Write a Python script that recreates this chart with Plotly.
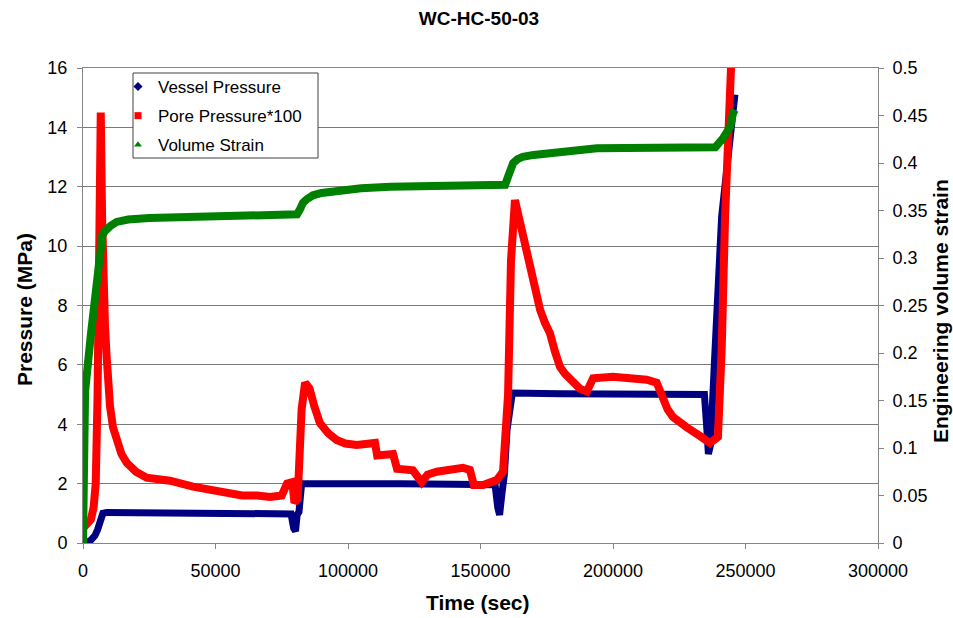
import plotly.graph_objects as go

# Test WC-HC-50-03: time in seconds
vessel_t = [0, 1500, 3000, 4500, 5500, 6500, 7500, 9000, 20000, 40000, 60000, 78500,
            79500, 80200, 80800, 81500, 82500, 100000, 120000, 140000, 155500, 156500,
            157200, 158000, 159000, 160000, 161000, 162000, 180000, 200000, 220000,
            234500, 235300, 236000, 236800, 237400, 238500, 241000, 243500, 246000]
vessel_p = [0.0, 0.02, 0.1, 0.25, 0.45, 0.8, 1.0, 1.03, 1.02, 1.0, 0.99, 0.98,
            0.5, 0.4, 0.95, 1.05, 2.0, 2.02, 2.0, 1.98, 1.96, 1.2,
            0.95, 1.6, 2.3, 3.8, 4.7, 5.05, 5.03, 5.02, 5.0,
            5.0, 4.0, 3.0, 3.3, 5.05, 6.5, 11.0, 13.3, 15.1]

pore_t = [0, 1000, 2000, 3000, 4000, 4800, 5500, 6200, 6700, 7200, 7700, 8300, 8900,
          9500, 10200, 11300, 12700, 14500, 16500, 20000, 24000, 28000, 32800, 41500,
          51700, 60000, 65700, 70600, 75000, 77000, 79000, 79800, 81000, 82500, 83800,
          85500, 87300, 89400, 92500, 95700, 99000, 103300, 110200, 111000, 117000,
          118500, 124500, 127800, 130000, 133500, 143400, 146000, 147500, 151000, 156100,
          158500, 160400, 161500, 163000, 164900, 166800, 168700, 170600, 172500, 174400,
          176200, 178100, 180000, 181900, 183800, 187500, 190100, 192500, 200000, 212700,
          216500, 218900, 220600, 222600, 225000, 227800, 232900, 236600, 239600, 241000,
          242300, 244800]
pore_p100 = [0.7, 0.6, 0.7, 0.8, 1.2, 2.0, 5.0, 11.5, 14.5, 11.0, 8.5, 7.3, 6.3,
             5.4, 4.6, 3.9, 3.4, 3.0, 2.7, 2.4, 2.2, 2.15, 2.1, 1.9,
             1.7, 1.6, 1.6, 1.55, 1.6, 2.0, 2.05, 1.35, 1.5, 4.5, 5.4,
             5.2, 4.6, 4.04, 3.7, 3.47, 3.35, 3.3, 3.37, 2.95, 3.0,
             2.5, 2.45, 2.05, 2.3, 2.4, 2.53, 2.46, 1.95, 1.95, 2.12,
             2.4, 5.0, 9.5, 11.55, 10.8, 10.1, 9.4, 8.6, 7.85, 7.4,
             7.07, 6.45, 5.93, 5.7, 5.5, 5.2, 5.1, 5.55, 5.6, 5.5,
             5.4, 4.8, 4.5, 4.25, 4.05, 3.9, 3.6, 3.37, 3.57, 6.5,
             11.0, 16.6]

strain_t = [0, 300, 800, 3000, 5000, 6400, 7300, 8200, 9000, 10500, 12700, 17000, 25000,
            44000, 70000, 80000, 80800, 82000, 83000, 84500, 86800, 90000, 95700, 105000,
            115900, 140000, 157400, 158500, 159300, 160200, 161000, 162300, 164000, 166000,
            170000, 175000, 184000, 193900, 205000, 221600, 238600, 241500, 244200, 245300,
            246000]
strain = [0.0, 0.1, 0.16, 0.22, 0.275, 0.316, 0.324, 0.328, 0.331, 0.334, 0.338, 0.3405,
          0.342, 0.3435, 0.344, 0.3445, 0.346, 0.352, 0.358, 0.362, 0.366, 0.3685, 0.371,
          0.3735, 0.375, 0.376, 0.377, 0.3755, 0.377, 0.384, 0.392, 0.4, 0.404, 0.4066,
          0.4085, 0.41, 0.413, 0.4155, 0.4158, 0.416, 0.4165, 0.426, 0.438, 0.4526,
          0.456]

x_ticks = [0, 50000, 100000, 150000, 200000, 250000, 300000]
p_ticks = [0, 2, 4, 6, 8, 10, 12, 14, 16]
s_ticks = [0, 0.05, 0.1, 0.15, 0.2, 0.25, 0.3, 0.35, 0.4, 0.45, 0.5]

NAVY = "#000080"
RED = "#FF0000"
GREEN = "#008000"
FONT = "Liberation Sans, Arial, sans-serif"

# plot-area pixel frame used for placing the legend box and axis titles
PX_L, PX_R, PX_T, PX_B = 83, 878, 68, 543
PW, PH = PX_R - PX_L, PX_B - PX_T


def px_x(px):
    return (px - PX_L) / PW


def px_y(py):
    return (PX_B - py) / PH


fig = go.Figure()

# data curves (thick lines standing in for densely packed markers)
fig.add_trace(go.Scatter(x=vessel_t, y=vessel_p, mode="lines", showlegend=False,
                         line=dict(color=NAVY, width=7), hoverinfo="skip"))
fig.add_trace(go.Scatter(x=pore_t, y=pore_p100, mode="lines", showlegend=False,
                         line=dict(color=RED, width=8), hoverinfo="skip"))
fig.add_trace(go.Scatter(x=strain_t, y=strain, mode="lines", showlegend=False,
                         line=dict(color=GREEN, width=8), yaxis="y2", hoverinfo="skip"))

# legend entries with the series marker symbols
for name, sym, col, grp in [("Vessel Pressure", "diamond", NAVY, "a"),
                            ("Pore Pressure*100", "square", RED, "b"),
                            ("Volume Strain", "triangle-up", GREEN, "c")]:
    fig.add_trace(go.Scatter(x=[None], y=[None], mode="markers", name=name, legendgroup=grp,
                             marker=dict(symbol=sym, size=7, color=col)))

axis_common = dict(showline=True, linecolor="#868686", linewidth=1, ticks="outside",
                   ticklen=5, tickcolor="#868686", zeroline=False,
                   tickfont=dict(family=FONT, size=18, color="black"))

fig.update_layout(
    width=953, height=618,
    margin=dict(l=PX_L, r=953 - PX_R, t=PX_T, b=618 - PX_B, autoexpand=False),
    paper_bgcolor="white", plot_bgcolor="white",
    title=dict(text="<b>WC-HC-50-03</b>", x=479 / 953, xanchor="center",
               y=1 - 18 / 618, yanchor="middle",
               font=dict(family=FONT, size=19, color="black")),
    xaxis=dict(range=[0, 300000], tickvals=x_ticks, ticktext=[str(v) for v in x_ticks],
               showgrid=False, mirror=True, ticklabelstandoff=6, **axis_common),
    yaxis=dict(range=[0, 16], tickvals=p_ticks, ticktext=[str(v) for v in p_ticks],
               showgrid=True, gridcolor="#7a7a7a", gridwidth=1, ticklabelstandoff=6,
               **axis_common),
    yaxis2=dict(range=[0, 0.5], tickvals=s_ticks, ticktext=[f"{v:g}" for v in s_ticks],
                overlaying="y", side="right", showgrid=False, ticklabelstandoff=5,
                **axis_common),
    legend=dict(x=px_x(118), y=px_y(69), xanchor="left", yanchor="top",
                bgcolor="rgba(0,0,0,0)", borderwidth=0,
                font=dict(family=FONT, size=17, color="black"), tracegroupgap=4,
                itemwidth=30),
    shapes=[
        # legend frame
        dict(type="rect", xref="paper", yref="paper", layer="above",
             x0=px_x(133), x1=px_x(318), y0=px_y(158), y1=px_y(73),
             line=dict(color="#404040", width=1), fillcolor="white"),
    ],
    annotations=[
        dict(text="<b>Time (sec)</b>", xref="paper", yref="paper", x=px_x(478),
             y=px_y(602), xanchor="center", yanchor="middle", showarrow=False,
             font=dict(family=FONT, size=21, color="black")),
        dict(text="<b>Pressure (MPa)</b>", xref="paper", yref="paper", x=px_x(24),
             y=px_y(310), xanchor="center", yanchor="middle", showarrow=False,
             textangle=-90, font=dict(family=FONT, size=21, color="black")),
        dict(text="<b>Engineering volume strain</b>", xref="paper", yref="paper",
             x=px_x(940), y=px_y(311), xanchor="center",
             yanchor="middle", showarrow=False, textangle=-90,
             font=dict(family=FONT, size=21, color="black")),
    ],
)

fig.write_html("out.html")
